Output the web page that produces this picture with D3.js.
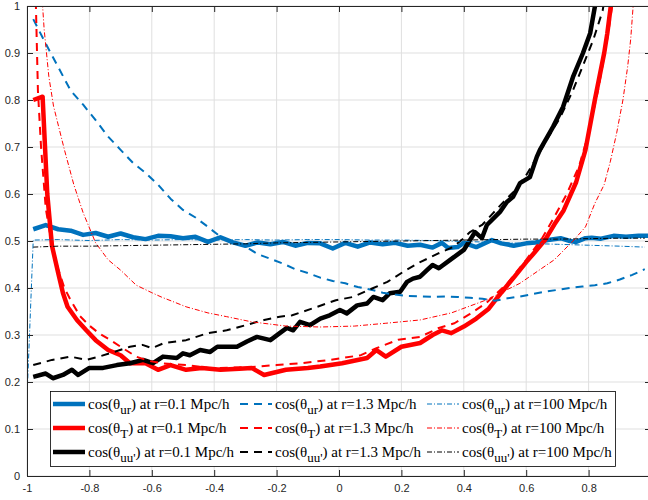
<!DOCTYPE html>
<html>
<head>
<meta charset="utf-8">
<script src="https://cdn.jsdelivr.net/npm/d3@7"></script>
<style>
  body { margin: 0; background: #fff; }
  .axis text { font-family: "Liberation Sans", Arial, sans-serif; font-size: 11px; fill: #262626; }
  .axis line, .axis path { stroke: #262626; }
  .grid line { stroke: #dfdfdf; stroke-width: 1; }
  .legend text { font-family: "Liberation Serif", "Times New Roman", serif; font-size: 15px; fill: #000; }
</style>
</head>
<body>
<div id="chart"></div>
<script>
// Valores: pares [cos, valor]
var urNear = [[-0.98,0.525],[-0.94,0.534],[-0.90,0.525],[-0.86,0.522],[-0.82,0.513],[-0.78,0.517],[-0.74,0.509],[-0.70,0.516],[-0.66,0.508],[-0.62,0.504],[-0.58,0.511],[-0.54,0.510],[-0.50,0.506],[-0.46,0.509],[-0.42,0.498],[-0.38,0.508],[-0.34,0.497],[-0.30,0.490],[-0.26,0.497],[-0.22,0.493],[-0.18,0.498],[-0.14,0.490],[-0.10,0.496],[-0.06,0.495],[-0.02,0.484],[0.02,0.496],[0.06,0.488],[0.10,0.497],[0.14,0.493],[0.18,0.496],[0.22,0.490],[0.26,0.492],[0.30,0.486],[0.33,0.496],[0.35,0.485],[0.38,0.487],[0.40,0.496],[0.44,0.487],[0.49,0.502],[0.52,0.495],[0.56,0.490],[0.60,0.495],[0.63,0.497],[0.67,0.502],[0.71,0.506],[0.74,0.500],[0.76,0.498],[0.79,0.506],[0.81,0.507],[0.84,0.505],[0.88,0.511],[0.92,0.509],[0.96,0.511],[1.0,0.511]];

var tNear = [[-0.98,0.80],[-0.95,0.807],[-0.935,0.60],[-0.92,0.49],[-0.90,0.432],[-0.885,0.39],[-0.87,0.36],[-0.84,0.332],[-0.81,0.31],[-0.78,0.289],[-0.74,0.268],[-0.70,0.257],[-0.67,0.24],[-0.62,0.24],[-0.58,0.226],[-0.54,0.236],[-0.49,0.226],[-0.44,0.23],[-0.38,0.226],[-0.32,0.228],[-0.28,0.23],[-0.24,0.215],[-0.17,0.226],[-0.10,0.23],[-0.06,0.233],[0.01,0.24],[0.09,0.251],[0.12,0.268],[0.15,0.254],[0.20,0.275],[0.26,0.283],[0.30,0.30],[0.33,0.31],[0.36,0.304],[0.40,0.318],[0.44,0.335],[0.48,0.356],[0.52,0.39],[0.56,0.422],[0.60,0.455],[0.63,0.478],[0.66,0.502],[0.69,0.535],[0.72,0.565],[0.76,0.625],[0.79,0.694],[0.82,0.80],[0.85,0.90],[0.86,0.942],[0.875,1.02]];

var uuNear = [[-0.98,0.211],[-0.94,0.218],[-0.917,0.208],[-0.885,0.215],[-0.856,0.226],[-0.836,0.215],[-0.80,0.23],[-0.756,0.23],[-0.712,0.236],[-0.67,0.24],[-0.628,0.247],[-0.596,0.24],[-0.564,0.254],[-0.52,0.251],[-0.50,0.261],[-0.478,0.257],[-0.445,0.268],[-0.413,0.264],[-0.39,0.275],[-0.327,0.275],[-0.295,0.286],[-0.263,0.296],[-0.22,0.289],[-0.19,0.304],[-0.167,0.315],[-0.147,0.31],[-0.125,0.328],[-0.093,0.321],[-0.06,0.335],[-0.03,0.342],[0.003,0.353],[0.025,0.346],[0.058,0.363],[0.09,0.367],[0.11,0.381],[0.14,0.374],[0.163,0.389],[0.196,0.392],[0.218,0.413],[0.237,0.42],[0.26,0.424],[0.282,0.438],[0.30,0.449],[0.32,0.442],[0.365,0.464],[0.40,0.481],[0.42,0.502],[0.436,0.519],[0.458,0.506],[0.474,0.534],[0.516,0.562],[0.538,0.583],[0.558,0.594],[0.58,0.623],[0.612,0.636],[0.634,0.679],[0.644,0.694],[0.686,0.743],[0.718,0.785],[0.75,0.849],[0.782,0.90],[0.805,0.942],[0.82,0.998],[0.83,1.03]];

var urMid = [[-0.98,0.972],[-0.94,0.92],[-0.90,0.87],[-0.86,0.82],[-0.82,0.79],[-0.78,0.757],[-0.74,0.722],[-0.70,0.694],[-0.66,0.666],[-0.62,0.645],[-0.58,0.62],[-0.54,0.59],[-0.50,0.566],[-0.46,0.55],[-0.42,0.53],[-0.38,0.509],[-0.34,0.497],[-0.30,0.488],[-0.26,0.472],[-0.22,0.462],[-0.18,0.452],[-0.14,0.44],[-0.10,0.432],[-0.06,0.422],[-0.02,0.415],[0.02,0.41],[0.06,0.402],[0.10,0.397],[0.14,0.39],[0.18,0.386],[0.22,0.383],[0.26,0.382],[0.30,0.381],[0.34,0.382],[0.38,0.381],[0.42,0.379],[0.46,0.377],[0.50,0.373],[0.54,0.378],[0.58,0.382],[0.62,0.387],[0.66,0.392],[0.70,0.396],[0.74,0.40],[0.78,0.403],[0.82,0.406],[0.86,0.41],[0.90,0.418],[0.94,0.428],[0.98,0.44]];

var tMid = [[-0.975,1.1],[-0.965,0.82],[-0.955,0.70],[-0.94,0.57],[-0.92,0.49],[-0.90,0.44],[-0.88,0.40],[-0.86,0.374],[-0.83,0.34],[-0.80,0.32],[-0.77,0.304],[-0.73,0.288],[-0.70,0.275],[-0.65,0.254],[-0.61,0.245],[-0.57,0.24],[-0.53,0.238],[-0.49,0.236],[-0.42,0.23],[-0.38,0.23],[-0.28,0.232],[-0.20,0.236],[-0.12,0.24],[-0.03,0.247],[0.07,0.257],[0.12,0.272],[0.19,0.29],[0.26,0.296],[0.32,0.315],[0.37,0.325],[0.42,0.345],[0.47,0.367],[0.54,0.41],[0.60,0.46],[0.65,0.505],[0.69,0.551],[0.73,0.60],[0.77,0.66],[0.80,0.73],[0.83,0.82],[0.86,0.93],[0.88,1.02]];

var uuMid = [[-0.98,0.236],[-0.92,0.247],[-0.86,0.254],[-0.81,0.247],[-0.77,0.254],[-0.72,0.264],[-0.67,0.275],[-0.63,0.279],[-0.60,0.272],[-0.56,0.283],[-0.49,0.289],[-0.42,0.304],[-0.36,0.31],[-0.32,0.317],[-0.24,0.332],[-0.19,0.339],[-0.15,0.342],[-0.07,0.36],[-0.01,0.374],[0.045,0.381],[0.11,0.40],[0.155,0.413],[0.205,0.434],[0.26,0.455],[0.32,0.474],[0.365,0.487],[0.40,0.506],[0.42,0.519],[0.46,0.535],[0.52,0.578],[0.56,0.605],[0.60,0.64],[0.64,0.685],[0.67,0.72],[0.71,0.764],[0.75,0.821],[0.78,0.87],[0.815,0.928],[0.845,0.99],[0.85,1.01]];

var urFar = [[-1,0.165],[-0.98,0.502],[-0.9,0.503],[-0.8,0.501],[-0.7,0.503],[-0.6,0.502],[-0.5,0.503],[-0.4,0.502],[-0.3,0.503],[-0.2,0.502],[-0.1,0.503],[0,0.503],[0.1,0.502],[0.2,0.502],[0.3,0.501],[0.4,0.499],[0.5,0.497],[0.6,0.495],[0.7,0.493],[0.8,0.491],[0.9,0.489],[0.98,0.487]];

var tFar = [[-0.955,1.05],[-0.945,0.95],[-0.93,0.85],[-0.915,0.787],[-0.88,0.694],[-0.85,0.62],[-0.82,0.56],[-0.78,0.496],[-0.74,0.46],[-0.70,0.438],[-0.65,0.406],[-0.60,0.39],[-0.57,0.381],[-0.49,0.36],[-0.42,0.347],[-0.36,0.339],[-0.28,0.328],[-0.17,0.319],[-0.06,0.317],[0.05,0.319],[0.15,0.325],[0.26,0.332],[0.36,0.347],[0.47,0.374],[0.58,0.41],[0.69,0.46],[0.75,0.50],[0.79,0.53],[0.82,0.58],[0.85,0.62],[0.87,0.67],[0.89,0.73],[0.91,0.80],[0.925,0.87],[0.935,0.93],[0.945,1.02]];

var uuFar = [[-0.98,0.487],[-0.9,0.489],[-0.8,0.489],[-0.7,0.490],[-0.6,0.491],[-0.5,0.492],[-0.4,0.493],[-0.3,0.494],[-0.2,0.496],[-0.1,0.497],[0,0.498],[0.1,0.499],[0.2,0.500],[0.3,0.501],[0.4,0.502],[0.5,0.503],[0.6,0.504],[0.7,0.504],[0.8,0.505],[0.9,0.506],[0.98,0.506]];

var xTicks = [-1, -0.8, -0.6, -0.4, -0.2, 0, 0.2, 0.4, 0.6, 0.8, 1];
var xTickLabels = ["-1", "-0.8", "-0.6", "-0.4", "-0.2", "0", "0.2", "0.4", "0.6", "0.8", "1"];
var yTicks = [0, 0.1, 0.2, 0.3, 0.4, 0.5, 0.6, 0.7, 0.8, 0.9, 1];
var yTickLabels = ["0", "0.1", "0.2", "0.3", "0.4", "0.5", "0.6", "0.7", "0.8", "0.9", "1"];

var quantities = ["ur", "T", "uu'"];
var radii = ["0.1", "1.3", "100"];

// Estilos: cor por grandeza, traco por raio
var colors = ["#0072BD", "#FF0000", "#000000"];
var strokes = [
  { width: 4.5, dash: null },
  { width: 2, dash: "8,6" },
  { width: 1, dash: "5,2,1,2" }
];

// ordem de desenho igual a do legenda (colunas = raios)
var series = [
  { data: urNear, q: 0, r: 0 }, { data: tNear, q: 1, r: 0 }, { data: uuNear, q: 2, r: 0 },
  { data: urMid,  q: 0, r: 1 }, { data: tMid,  q: 1, r: 1 }, { data: uuMid,  q: 2, r: 1 },
  { data: urFar,  q: 0, r: 2 }, { data: tFar,  q: 1, r: 2 }, { data: uuFar,  q: 2, r: 2 }
];

var margin = { top: 6, left: 27 },
  width = 624,
  height = 470;

var root = d3.select("#chart")
  .append("svg")
  .attr("width", 648)
  .attr("height", 500);

var svg = root.append("g")
  .attr("transform", "translate(" + margin.left + "," + margin.top + ")");

var xScale = d3.scaleLinear().domain([-1, 1]).range([0, width]);
var yScale = d3.scaleLinear().domain([0, 1]).range([height, 0]);

// Grade
var grid = svg.append("g").attr("class", "grid");
grid.selectAll(".vgrid")
  .data(xTicks)
  .enter().append("line")
  .attr("x1", function(d) { return xScale(d); })
  .attr("x2", function(d) { return xScale(d); })
  .attr("y1", 0)
  .attr("y2", height);
grid.selectAll(".hgrid")
  .data(yTicks)
  .enter().append("line")
  .attr("x1", 0)
  .attr("x2", width)
  .attr("y1", function(d) { return yScale(d); })
  .attr("y2", function(d) { return yScale(d); });

// Curvas
svg.append("clipPath")
  .attr("id", "plot-clip")
  .append("rect")
  .attr("width", width)
  .attr("height", height);

var line = d3.line()
  .x(function(d) { return xScale(d[0]); })
  .y(function(d) { return yScale(d[1]); });

svg.append("g")
  .attr("clip-path", "url(#plot-clip)")
  .selectAll(".curve")
  .data(series)
  .enter().append("path")
  .attr("class", "curve")
  .attr("d", function(d) { return line(d.data); })
  .attr("fill", "none")
  .attr("stroke", function(d) { return colors[d.q]; })
  .attr("stroke-width", function(d) { return strokes[d.r].width; })
  .attr("stroke-dasharray", function(d) { return strokes[d.r].dash; })
  .attr("stroke-linejoin", "round");

// Eixos (ticks para dentro, caixa fechada)
var xAxis = d3.axisBottom(xScale)
  .tickValues(xTicks)
  .tickSizeInner(-6)
  .tickSizeOuter(0)
  .tickPadding(8)
  .tickFormat(function(d, i) { return xTickLabels[i]; });

svg.append("g")
  .attr("class", "axis x-axis")
  .attr("transform", "translate(0," + height + ")")
  .call(xAxis);

svg.append("g")
  .attr("class", "axis")
  .call(d3.axisTop(xScale).tickValues(xTicks).tickSizeInner(-6).tickSizeOuter(0).tickFormat(""));

var yAxis = d3.axisLeft(yScale)
  .tickValues(yTicks)
  .tickSizeInner(-6)
  .tickSizeOuter(0)
  .tickPadding(7)
  .tickFormat(function(d, i) { return yTickLabels[i]; });

svg.append("g")
  .attr("class", "axis y-axis")
  .call(yAxis);

svg.append("g")
  .attr("class", "axis")
  .attr("transform", "translate(" + width + ",0)")
  .call(d3.axisRight(yScale).tickValues(yTicks).tickSizeInner(-6).tickSizeOuter(0).tickFormat(""));

// Legenda
var legend = root.append("g").attr("class", "legend");

legend.append("rect")
  .attr("x", 50.5)
  .attr("y", 391.5)
  .attr("width", 565)
  .attr("height", 75)
  .attr("fill", "#fff")
  .attr("stroke", "#000")
  .attr("stroke-width", 0.8);

var colX = [53, 240, 427];
var rowY = [404, 428, 452];

series.forEach(function(s) {
  var x0 = colX[s.r], y0 = rowY[s.q];
  legend.append("line")
    .attr("x1", x0)
    .attr("x2", x0 + 32)
    .attr("y1", y0)
    .attr("y2", y0)
    .attr("stroke", colors[s.q])
    .attr("stroke-width", strokes[s.r].width)
    .attr("stroke-dasharray", strokes[s.r].dash);

  var t = legend.append("text")
    .attr("x", x0 + 35)
    .attr("y", y0 + 5);
  t.append("tspan").text("cos(\u03B8");
  t.append("tspan").attr("dy", 5).attr("font-size", "13px").text(quantities[s.q]);
  t.append("tspan").attr("dy", -5).text(") at r=" + radii[s.r] + " Mpc/h");
});
</script>
</body>
</html>
